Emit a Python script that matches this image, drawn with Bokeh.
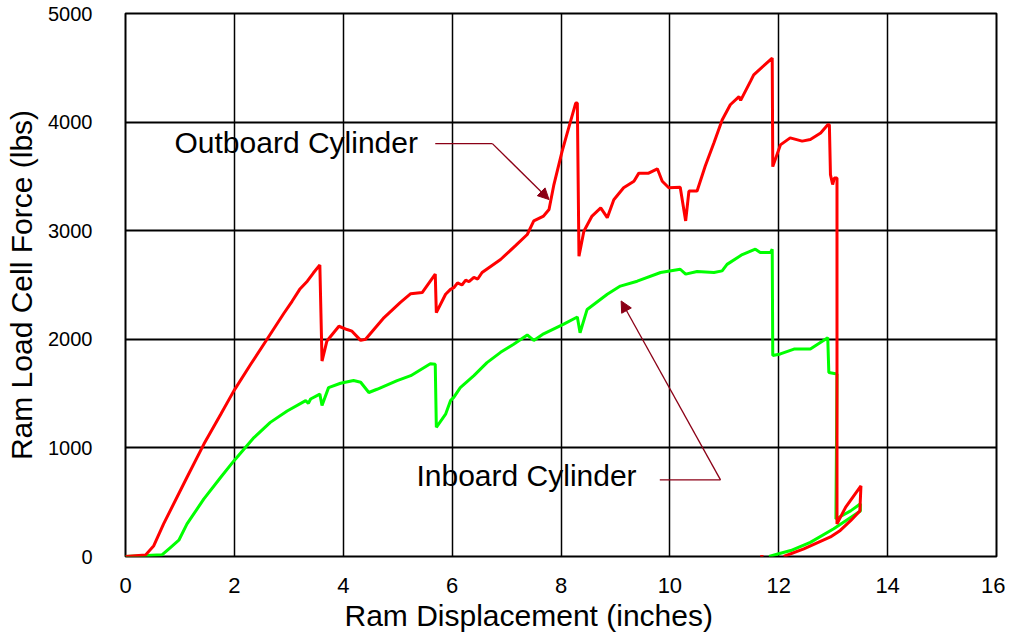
from bokeh.plotting import figure
from bokeh.models import Range1d, FixedTicker, Arrow, NormalHead, Label, Title
from bokeh.embed import file_html
from bokeh.resources import INLINE

# ---- data ----
x_ticks = [0, 2, 4, 6, 8, 10, 12, 14, 16]
y_ticks = [0, 1000, 2000, 3000, 4000, 5000]

outboard_x = [0, 0.37, 0.52, 0.70, 1.13, 1.44, 1.75, 1.99, 2.30, 2.60, 2.91, 3.06, 3.20, 3.34, 3.45, 3.57,
              3.61, 3.70, 3.92, 4.07, 4.16, 4.32, 4.41, 4.75, 5.05, 5.24, 5.45, 5.69,
              5.71, 5.88, 5.97, 6.03, 6.10, 6.18, 6.25, 6.31, 6.40, 6.47, 6.55, 6.89, 7.16, 7.38,
              7.50, 7.68, 7.78, 7.87, 8.02, 8.14, 8.27, 8.30,
              8.33, 8.42, 8.57, 8.73, 8.85, 8.97, 9.15, 9.34, 9.43, 9.61, 9.77, 9.86, 9.98,
              10.19, 10.29, 10.35, 10.50, 10.65, 10.81, 10.96, 11.11, 11.27, 11.30, 11.48,
              11.54, 11.88,
              11.89, 12.03, 12.21, 12.43, 12.58, 12.77, 12.90, 12.93,
              12.95, 12.99, 13.02, 13.07,
              13.07, 13.23, 13.51, 13.49, 13.32, 13.13, 12.95, 12.46, 12.09]
outboard_y = [0, 15, 100, 300, 730, 1035, 1310, 1525, 1770, 2000, 2240, 2350, 2460, 2535, 2610, 2685,
              1800, 1985, 2120, 2090, 2075, 1990, 2000, 2200, 2340, 2420, 2430, 2600,
              2245, 2415, 2460, 2475, 2520, 2500, 2545, 2530, 2570, 2555, 2615, 2735, 2860, 2965,
              3090, 3135, 3195, 3425, 3730, 3945, 4175, 4175,
              2765, 2995, 3135, 3210, 3120, 3285, 3395, 3455, 3530, 3530, 3570, 3455, 3395,
              3400, 3090, 3365, 3365, 3595, 3810, 4020, 4160, 4235, 4200, 4375,
              4435, 4590,
              3590, 3790, 3855, 3825, 3840, 3900, 3975, 3975,
              3515, 3425, 3485, 3485,
              300, 455, 650, 420, 330, 240, 180, 70, 0]

outboard_dot_x = [11.66, 11.72]
outboard_dot_y = [0, 0]

inboard_x = [0, 0.67, 0.83, 0.98, 1.13, 1.44, 1.75, 1.99, 2.36, 2.66, 2.97, 3.31, 3.36, 3.40,
             3.57, 3.61, 3.73, 3.95, 4.19, 4.32, 4.47, 4.62, 4.99, 5.24, 5.60, 5.69,
             5.71, 5.88, 5.97, 6.03, 6.15, 6.40, 6.64, 6.89, 7.13, 7.38, 7.50, 7.68, 8.05,
             8.30, 8.35, 8.48, 8.85, 9.09, 9.40, 9.83, 10.19, 10.29, 10.50, 10.81, 10.96,
             11.05, 11.33, 11.57, 11.66, 11.85, 11.88,
             11.89, 12.03, 12.28, 12.58, 12.90,
             12.92, 13.07,
             13.05, 13.32, 13.50, 13.50, 13.01, 12.58, 12.22, 12.00, 11.82]
inboard_y = [0, 15, 85, 150, 300, 530, 730, 880, 1095, 1235, 1340, 1435, 1410, 1450,
             1495, 1390, 1555, 1595, 1620, 1605, 1510, 1540, 1620, 1665, 1775, 1770,
             1190, 1310, 1435, 1465, 1555, 1665, 1785, 1880, 1955, 2040, 1990, 2050, 2140,
             2205, 2060, 2275, 2415, 2490, 2535, 2615, 2645, 2600, 2625, 2615, 2630,
             2690, 2780, 2830, 2800, 2800, 2830,
             1850, 1865, 1910, 1910, 2015,
             1695, 1680,
             345, 420, 485, 420, 255, 130, 55, 25, 0]

# annotation anchors (data coords)
out_label = "Outboard Cylinder"
out_text_xy = (0.90, 3814)
out_leader_x = [5.69, 6.74, 7.78]
out_leader_y = [3802, 3802, 3287]

in_label = "Inboard Cylinder"
in_text_xy = (5.345, 744)
in_leader_x = [9.815, 10.93, 9.105]
in_leader_y = [705, 705, 2353]

x_title = "Ram Displacement (inches)"
y_title = "Ram Load Cell Force (lbs)"

FONT = "Liberation Sans"
ANN = "#8B0016"

p = figure(width=1005, height=636, output_backend="svg", toolbar_location=None,
           x_range=Range1d(0, 16), y_range=Range1d(0, 5000),
           min_border_left=125, min_border_right=9, min_border_top=13, min_border_bottom=80)
p.background_fill_color = "white"
p.border_fill_color = "white"
p.outline_line_color = "black"
p.outline_line_width = 2

for ax in (p.xaxis[0], p.yaxis[0]):
    ax.axis_line_color = None
    ax.major_tick_line_color = None
    ax.minor_tick_line_color = None
    ax.major_label_text_font = FONT
    ax.major_label_text_color = "black"
    ax.axis_label_text_font = FONT
    ax.axis_label_text_font_style = "normal"
    ax.axis_label_text_color = "black"

p.xaxis.ticker = FixedTicker(ticks=x_ticks)
p.yaxis.ticker = FixedTicker(ticks=y_ticks)
p.xaxis.major_label_text_font_size = "22px"
p.xaxis.major_label_standoff = 15
p.yaxis.major_label_text_font_size = "20px"
p.yaxis.major_label_standoff = 27
p.yaxis.axis_label = y_title
p.yaxis.axis_label_text_font_size = "30px"
p.yaxis.axis_label_standoff = 7

p.add_layout(Title(text=x_title, align="left", offset=219, standoff=2,
                   text_font=FONT, text_font_size="30px", text_font_style="normal",
                   text_color="black"), "below")

p.xgrid.ticker = FixedTicker(ticks=x_ticks)
p.ygrid.ticker = FixedTicker(ticks=y_ticks)
p.xgrid.grid_line_color = "black"
p.ygrid.grid_line_color = "black"
p.xgrid.grid_line_width = 1.5
p.ygrid.grid_line_width = 2

p.line(inboard_x, inboard_y, line_color="#00FF00", line_width=3)
p.line(outboard_x, outboard_y, line_color="#FF0000", line_width=3)
p.line(outboard_dot_x, outboard_dot_y, line_color="#FF0000", line_width=3)

# annotations
p.line(out_leader_x[:2], out_leader_y[:2], line_color=ANN, line_width=1.3)
p.add_layout(Arrow(end=NormalHead(size=11, fill_color=ANN, line_color=ANN),
                   x_start=out_leader_x[1], y_start=out_leader_y[1],
                   x_end=out_leader_x[2], y_end=out_leader_y[2],
                   line_color=ANN, line_width=1.3))
p.line(in_leader_x[:2], in_leader_y[:2], line_color=ANN, line_width=1.3)
p.add_layout(Arrow(end=NormalHead(size=11, fill_color=ANN, line_color=ANN),
                   x_start=in_leader_x[1], y_start=in_leader_y[1],
                   x_end=in_leader_x[2], y_end=in_leader_y[2],
                   line_color=ANN, line_width=1.3))

p.add_layout(Label(x=out_text_xy[0], y=out_text_xy[1], text=out_label,
                   text_font=FONT, text_font_size="30px", text_color="black",
                   text_baseline="middle", text_align="left"))
p.add_layout(Label(x=in_text_xy[0], y=in_text_xy[1], text=in_label,
                   text_font=FONT, text_font_size="30px", text_color="black",
                   text_baseline="middle", text_align="left"))

open("out.html", "w").write(file_html(p, INLINE))
